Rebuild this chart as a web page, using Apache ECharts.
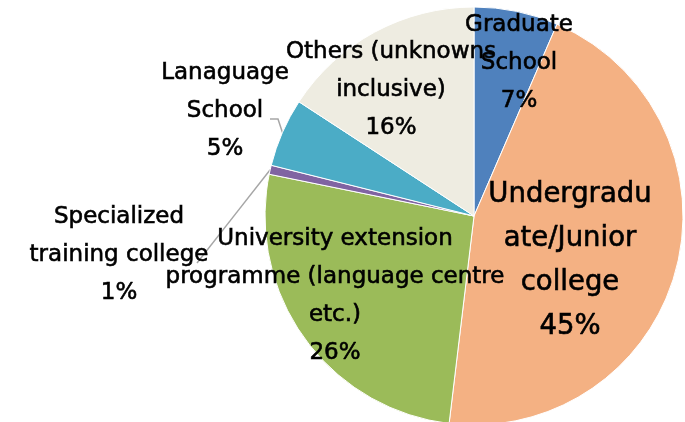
<!DOCTYPE html>
<html>
<head>
<meta charset="utf-8">
<script src="https://cdn.jsdelivr.net/npm/echarts@6/dist/echarts.min.js"></script>
<style>
html,body{margin:0;padding:0;background:#fff;}
#chart{width:685px;height:422px;}
</style>
</head>
<body>
<div id="chart"></div>
<script>
// Data
const categories = [
  'Graduate\nSchool',
  'Undergradu\nate/Junior\ncollege',
  'University extension\nprogramme (language centre\netc.)',
  'Specialized\ntraining college',
  'Lanaguage\nSchool',
  'Others (unknowns\ninclusive)'
];
const values = [6.5, 45.4, 26.3, 0.7, 5.3, 15.8];
const pctLabels = ['7%', '45%', '26%', '1%', '5%', '16%'];

// Styling / layout
const colors = ['#4F81BD', '#F4B183', '#9BBB59', '#8064A2', '#4BACC6', '#EEECE1'];
const labelPos = [[519, 63], [570, 261], [335, 296], [119, 255], [225, 111], [391, 90]];
const withLine = [false, false, false, true, true, false];

const chart = echarts.init(document.getElementById('chart'), null, {renderer: 'canvas'});

const data = categories.map((c, i) => ({
  name: c,
  value: values[i],
  itemStyle: {color: colors[i]},
  label: i === 1 ? {fontSize: 27.5, lineHeight: 44, position: 'inside'} :
         {position: withLine[i] ? 'outside' : 'inside'},
  labelLine: {show: withLine[i]}
}));

chart.setOption({
  animation: false,
  series: [{
    type: 'pie',
    center: [474, 216],
    radius: [0, 209],
    startAngle: 90,
    clockwise: true,
    avoidLabelOverlap: false,
    itemStyle: {borderColor: '#ffffff', borderWidth: 1},
    label: {
      show: true,
      color: '#000',
      fontFamily: 'DejaVu Sans',
      fontSize: 23,
      lineHeight: 38,
      align: 'center',
      overflow: 'none',
      textBorderColor: '#000',
      textBorderWidth: 0.6,
      formatter: p => p.name + '\n' + pctLabels[p.dataIndex]
    },
    labelLine: {
      lineStyle: {color: '#A6A6A6', width: 1.5},
      smooth: false
    },
    labelLayout: function (p) {
      const i = p.dataIndex;
      const res = {x: labelPos[i][0], y: labelPos[i][1], align: 'center', verticalAlign: 'middle'};
      if (withLine[i] && p.labelLinePoints) {
        const e = p.labelLinePoints[0];
        if (i === 3) {
          const end = [197, 263];
          res.labelLinePoints = [e, [(e[0] + end[0]) / 2, (e[1] + end[1]) / 2], end];
        } else if (i === 4) {
          res.labelLinePoints = [e, [278, 119], [270, 119]];
        }
      }
      return res;
    },
    data: data
  }]
});
</script>
</body>
</html>
